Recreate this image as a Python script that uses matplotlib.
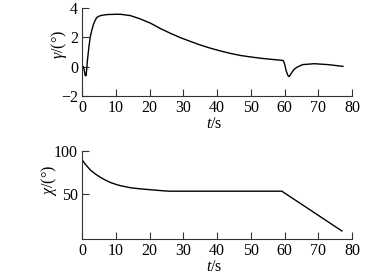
import matplotlib
matplotlib.use("Agg")
import matplotlib.pyplot as plt

plt.rcParams['font.family'] = ['Liberation Serif', 'DejaVu Serif']
plt.rcParams['mathtext.fontset'] = 'custom'
plt.rcParams['mathtext.it'] = 'Liberation Serif:italic'
plt.rcParams['mathtext.rm'] = 'Liberation Serif'

# Top panel: gamma (deg) vs time (s)
t_gamma = [0.4, 0.7, 0.9, 1.2, 1.6, 2.0, 2.4, 2.9, 3.4, 3.9, 4.4, 5.1, 5.9, 7.4, 10.0,
           11.4, 14.3, 17.3, 20.3, 23.2, 26.2, 29.1, 32.1, 35.1, 38.0, 41.0, 44.0, 47.0,
           50.0, 53.0, 56.0, 59.6, 60.0, 60.5, 61.0, 61.4, 62.0, 62.9, 64.0, 65.4,
           68.8, 72.8, 77.3]
gamma = [0.0, -0.3, -0.6, -0.62, 0.45, 1.3, 2.0, 2.5, 2.9, 3.17, 3.36, 3.45, 3.5, 3.55, 3.57,
         3.57, 3.48, 3.25, 2.96, 2.6, 2.27, 1.98, 1.72, 1.47, 1.26, 1.07, 0.9, 0.76,
         0.66, 0.57, 0.5, 0.42, 0.2, -0.3, -0.6, -0.68, -0.45, -0.16, 0.0, 0.14,
         0.2, 0.14, 0.02]

# Bottom panel: chi (deg) vs time (s)
t_chi = [0.0, 1.0, 2.5, 4.0, 5.5, 7.0, 8.4, 10.0, 11.4, 14.3, 17.0, 19.3, 22.0, 24.2, 26.0, 59.2, 77.0]
chi = [90.0, 84.5, 77.9, 73.3, 69.5, 66.3, 63.7, 61.6, 60.0, 57.7, 56.5, 55.7, 54.8, 54.1, 53.7, 53.7, 7.9]

x_ticks = [0, 10, 20, 30, 40, 50, 60, 70, 80]
gamma_ticks = [-2, 0, 2, 4]
chi_ticks = [50, 100]

fig = plt.figure(figsize=(3.89, 2.75), dpi=100)
ax1 = fig.add_axes([0.211, 0.651, 0.694, 0.32])
ax2 = fig.add_axes([0.211, 0.131, 0.694, 0.32])

ax1.plot(t_gamma, gamma, color='black', lw=1.0)
ax2.plot(t_chi, chi, color='black', lw=1.0)

ax1.set_xlim(0, 80)
ax1.set_ylim(-2, 4)
ax1.set_yticks(gamma_ticks)
ax2.set_xlim(0, 80)
ax2.set_ylim(-1.3, 100)
ax2.set_yticks(chi_ticks)

for ax in (ax1, ax2):
    ax.set_xticks(x_ticks)
    for s in ('top', 'right'):
        ax.spines[s].set_visible(False)
    for s in ('left', 'bottom'):
        ax.spines[s].set_linewidth(0.8)
        ax.spines[s].set_color('#333333')
    ax.tick_params(direction='in', length=5, width=0.8, labelsize=11.5, pad=3, color='#333333')
    ax.set_xlabel('$t$/s', fontsize=11.5)

ax1.set_ylabel(r'$\gamma$/(°)', fontsize=11.5)
ax2.set_ylabel(r'$\chi$/(°)', fontsize=11.5)
ax1.yaxis.set_label_coords(-0.085, 0.58)
ax2.yaxis.set_label_coords(-0.122, 0.66)
ax1.xaxis.set_label_coords(0.49, -0.32)
ax2.xaxis.set_label_coords(0.49, -0.32)
for ax in (ax1, ax2):
    ax.xaxis.label.set_va('center')
    ax.yaxis.label.set_va('center')

fig.savefig('out.png', dpi=100)
